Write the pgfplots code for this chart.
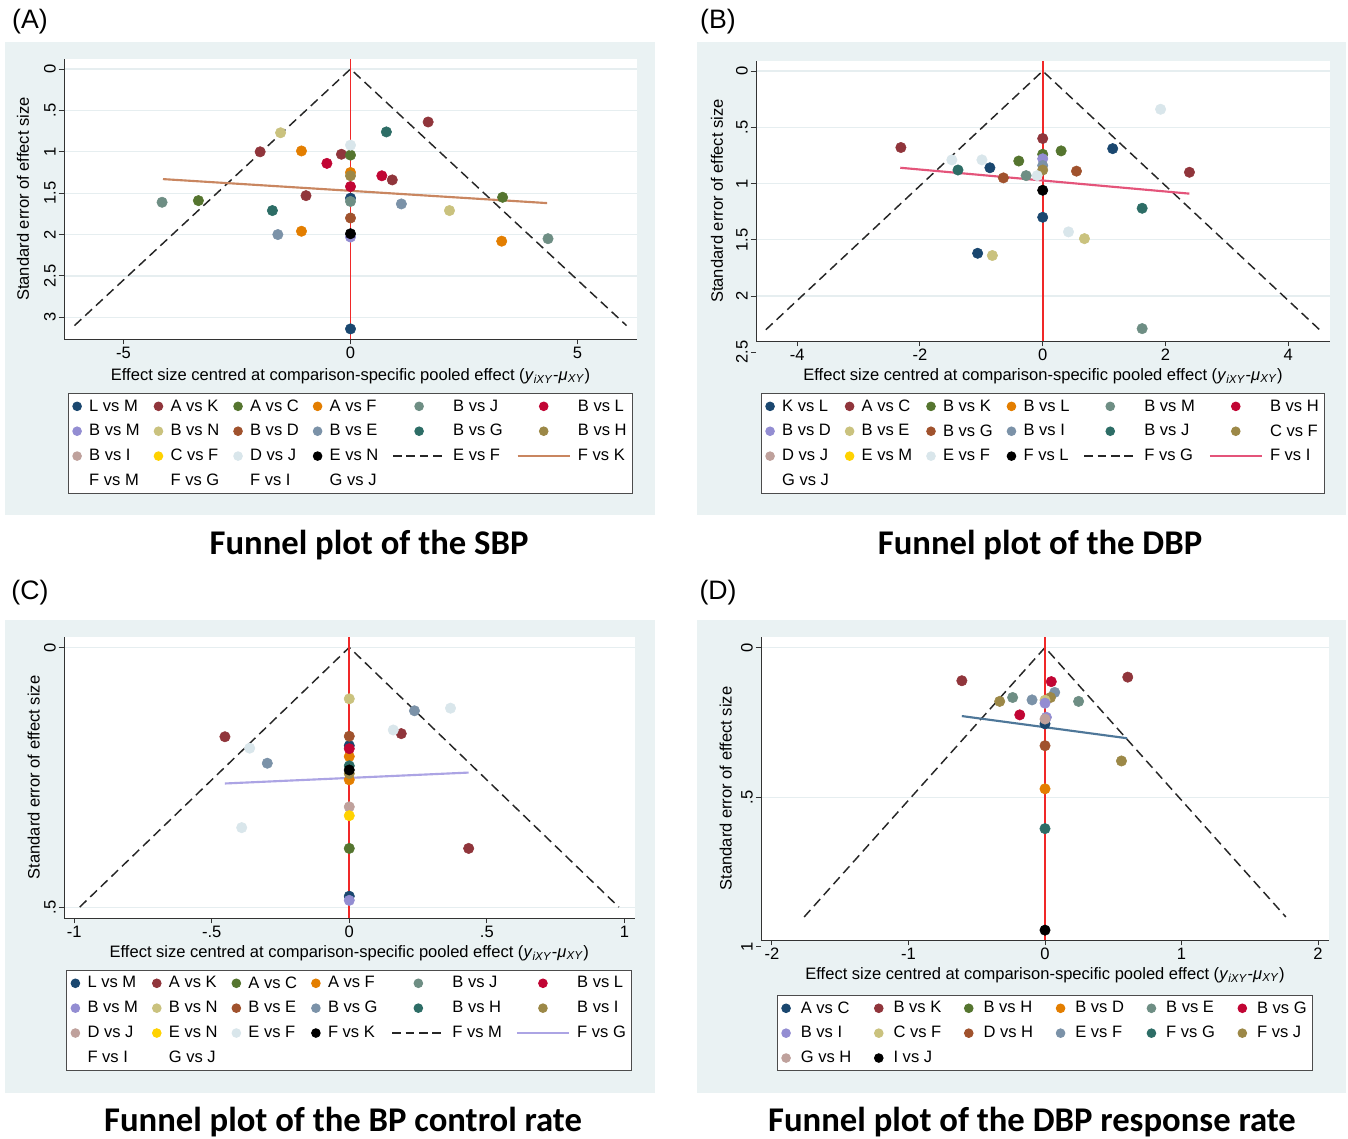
\documentclass[border=0pt]{standalone}
\usepackage{fontspec}
\setmainfont{Liberation Sans}
\newfontfamily\titlefont{Carlito}
\usepackage{pgfplots}
\pgfplotsset{compat=1.18}

\definecolor{bg}{HTML}{EAF2F3}
\definecolor{gridc}{HTML}{E6EEF0}
\definecolor{cNavy}{HTML}{1A476F}
\definecolor{cMaroon}{HTML}{90353B}
\definecolor{cGreen}{HTML}{55752F}
\definecolor{cOrange}{HTML}{E37E00}
\definecolor{cTeal}{HTML}{6E8E84}
\definecolor{cCran}{HTML}{C10534}
\definecolor{cLav}{HTML}{938DD2}
\definecolor{cKhaki}{HTML}{CAC27E}
\definecolor{cSienna}{HTML}{A0522D}
\definecolor{cEmid}{HTML}{7B92A8}
\definecolor{cEmer}{HTML}{2D6D66}
\definecolor{cBrown}{HTML}{9C8847}
\definecolor{cErose}{HTML}{BFA19C}
\definecolor{cGold}{HTML}{FFD200}
\definecolor{cBgray}{HTML}{D9E6EB}
\definecolor{fitA}{HTML}{C98660}
\definecolor{fitB}{HTML}{E4547A}
\definecolor{fitC}{HTML}{ACA4E4}
\definecolor{fitD}{HTML}{4E7799}
\definecolor{redline}{HTML}{F02828}

\newcommand{\fs}{\fontsize{12.4}{14}\selectfont}
\newcommand{\xl}{Effect size centred at comparison-specific pooled effect (\textit{y}\textsubscript{\textit{iXY}}-\textit{μ}\textsubscript{\textit{XY}})}

\pgfplotsset{
  ld/.style={legend image code/.code={\path (0pt,0pt) (6.4pt,0pt); \fill[#1] (3.2pt,0pt) circle (3.2pt);}},
  lw/.style={legend image code/.code={\path (0pt,0pt) (39pt,0pt); \fill[#1] (19.5pt,0pt) circle (3.2pt);}},
  le/.style={legend image code/.code={\path (0pt,0pt) (6.4pt,0pt);}},
  ll/.style={legend image code/.code={\draw[#1] (0pt,0pt) -- (39pt,0pt);}},
  stata/.style={
    scale only axis,
    y dir=reverse,
    axis x line*=bottom, axis y line*=left,
    axis line style={black!80, line width=0.75pt},
    every tick/.style={black!80, line width=0.75pt},
    major tick length=4pt,
    tick align=outside,
    ymajorgrids,
    major grid style={color=gridc, line width=0.9pt},
    tick label style={font=\fs},
    yticklabel style={rotate=90, anchor=south, inner sep=2pt},
    xticklabel style={anchor=north, inner sep=2pt},
    label style={font=\fs},
    clip mode=individual,
    axis background/.style={fill=white},
    legend columns=6,
    legend cell align=left,
    legend style={draw=black!70, line width=0.75pt, fill=white, font=\fs,
      inner xsep=3pt, inner ysep=3pt, row sep=5.5pt, nodes={inner sep=1.5pt},
      /tikz/every odd column/.append style={column sep=4pt},
      /tikz/every even column/.append style={column sep=9pt}},
  },
}
\newcommand{\pts}[2]{\addplot[only marks, mark=*, mark size=3.9pt, color=#1, forget plot] coordinates {#2};}
\newcommand{\LD}[2]{\addlegendimage{ld=#1}\addlegendentry{#2}}
\newcommand{\LW}[2]{\addlegendimage{lw=#1}\addlegendentry{#2}}
\newcommand{\LE}[1]{\addlegendimage{le}\addlegendentry{#1}}
\newcommand{\LL}[2]{\addlegendimage{ll={#1}}\addlegendentry{#2}}

\begin{document}
\begin{tikzpicture}
\useasboundingbox (0pt,0pt) rectangle (1011pt,-853.5pt);
\fill[bg] (3.75pt,-31.5pt) rectangle (491.25pt,-386.25pt);
\fill[bg] (522.75pt,-31.5pt) rectangle (1009.5pt,-386.25pt);
\fill[bg] (3.75pt,-465pt) rectangle (491.25pt,-819.75pt);
\fill[bg] (522.75pt,-465pt) rectangle (1009.5pt,-819.75pt);
\node[font=\fontsize{20}{24}\selectfont] at (22.5pt,-16.5pt) {(A)};
\node[font=\fontsize{20}{24}\selectfont] at (538.5pt,-16.5pt) {(B)};
\node[font=\fontsize{20}{24}\selectfont] at (22.5pt,-444.75pt) {(C)};
\node[font=\fontsize{20}{24}\selectfont] at (538.5pt,-444.75pt) {(D)};
\node[font=\titlefont\bfseries\fontsize{26}{30}\selectfont, anchor=base] at (276.75pt,-415.5pt) {Funnel plot of the SBP};
\node[font=\titlefont\bfseries\fontsize{26}{30}\selectfont, anchor=base] at (780pt,-415.5pt) {Funnel plot of the DBP};
\node[font=\titlefont\bfseries\fontsize{26}{30}\selectfont, anchor=base] at (257.25pt,-848.25pt) {Funnel plot of the BP control rate};
\node[font=\titlefont\bfseries\fontsize{26}{30}\selectfont, anchor=base] at (774pt,-848.25pt) {Funnel plot of the DBP response rate};

% ---------------- (A) ----------------
\begin{axis}[stata, at={(48pt,-254.25pt)}, anchor=south west, width=429.75pt, height=210pt,
  xmin=-6.31, xmax=6.31, ymin=-0.121, ymax=3.262,
  xtick={-5,0,5}, xticklabels={-5,0,5},
  ytick={0,0.5,1,1.5,2,2.5,3}, yticklabels={0,.5,1,1.5,2,2.5,3},
  xlabel={\xl}, ylabel={Standard error of effect size},
  xlabel style={at={(axis description cs:0.5,-0.132)}, anchor=center},
  ylabel style={at={(axis description cs:-0.0716,0.5)}, anchor=center},
  legend style={at={(0.5,-0.193)}, anchor=north}]
\LD{cNavy}{L vs M}\LD{cMaroon}{A vs K}\LD{cGreen}{A vs C}\LD{cOrange}{A vs F}\LW{cTeal}{B vs J}\LW{cCran}{B vs L}
\LD{cLav}{B vs M}\LD{cKhaki}{B vs N}\LD{cSienna}{B vs D}\LD{cEmid}{B vs E}\LW{cEmer}{B vs G}\LW{cBrown}{B vs H}
\LD{cErose}{B vs I}\LD{cGold}{C vs F}\LD{cBgray}{D vs J}\LD{black}{E vs N}\LL{black!85,dash pattern=on 6.5pt off 3.5pt,line width=1.1pt}{E vs F}\LL{fitA,line width=1.4pt}{F vs K}
\LE{F vs M}\LE{F vs G}\LE{F vs I}\LE{G vs J}
\addplot[black!85, dash pattern=on 7pt off 4pt, line width=1.1pt, forget plot] coordinates {(-6.08,3.1) (0,0) (6.08,3.1)};
\addplot[redline, line width=1.4pt, forget plot] coordinates {(0,-0.121) (0,3.262)};
\addplot[fitA, line width=1.6pt, forget plot] coordinates {(-4.13,1.33) (4.33,1.62)};
\pts{cNavy}{(0,1.56) (0,3.14)}
\pts{cMaroon}{(1.71,0.64) (-1.99,1.0) (-0.20,1.03) (0.92,1.34) (-0.98,1.53)}
\pts{cGreen}{(0,1.04) (3.35,1.55) (-3.35,1.59)}
\pts{cOrange}{(-1.08,0.99) (0,1.25) (-1.08,1.96) (3.33,2.08)}
\pts{cTeal}{(0,1.60) (-4.15,1.61) (4.35,2.05)}
\pts{cCran}{(-0.52,1.14) (0.69,1.29) (0,1.42)}
\pts{cLav}{(0,2.03)}
\pts{cKhaki}{(-1.54,0.77) (2.18,1.71)}
\pts{cSienna}{(0,1.80)}
\pts{cEmid}{(1.12,1.63) (-1.60,2.0)}
\pts{cEmer}{(0.79,0.76) (-1.72,1.71)}
\pts{cBrown}{(0,1.29)}
\pts{cBgray}{(0,0.92)}
\pts{black}{(0,1.99)}
\end{axis}

% ---------------- (B) ----------------
\begin{axis}[stata, at={(567pt,-255.75pt)}, anchor=south west, width=430.5pt, height=210pt,
  xmin=-4.67, xmax=4.68, ymin=-0.089, ymax=2.40,
  xtick={-4,-2,0,2,4}, xticklabels={-4,-2,0,2,4},
  ytick={0,0.5,1,1.5,2}, yticklabels={0,.5,1,1.5,2},
  xlabel={\xl}, ylabel={Standard error of effect size},
  xlabel style={at={(axis description cs:0.5,-0.125)}, anchor=center},
  ylabel style={at={(axis description cs:-0.068,0.5)}, anchor=center},
  legend style={at={(0.5,-0.186)}, anchor=north}]
\LD{cNavy}{K vs L}\LD{cMaroon}{A vs C}\LD{cGreen}{B vs K}\LD{cOrange}{B vs L}\LW{cTeal}{B vs M}\LW{cCran}{B vs H}
\LD{cLav}{B vs D}\LD{cKhaki}{B vs E}\LD{cSienna}{B vs G}\LD{cEmid}{B vs I}\LW{cEmer}{B vs J}\LW{cBrown}{C vs F}
\LD{cErose}{D vs J}\LD{cGold}{E vs M}\LD{cBgray}{E vs F}\LD{black}{F vs L}\LL{black!85,dash pattern=on 6.5pt off 3.5pt,line width=1.1pt}{F vs G}\LL{fitB,line width=1.4pt}{F vs I}
\LE{G vs J}
\addplot[black!85, dash pattern=on 7pt off 4pt, line width=1.1pt, forget plot] coordinates {(-4.51,2.3) (0,0) (4.51,2.3)};
\addplot[redline, line width=1.4pt, forget plot] coordinates {(0,-0.089) (0,2.40)};
\addplot[fitB, line width=1.6pt, forget plot] coordinates {(-2.32,0.86) (2.39,1.09)};
\pts{cNavy}{(1.14,0.69) (-0.86,0.86) (0,1.30) (-1.06,1.62)}
\pts{cMaroon}{(-2.31,0.68) (0,0.60) (2.39,0.90)}
\pts{cGreen}{(0.30,0.71) (0,0.74) (-0.39,0.80)}
\pts{cLav}{(0,0.78)}
\pts{cKhaki}{(0.68,1.49) (-0.82,1.64)}
\pts{cSienna}{(-0.64,0.95) (0.55,0.89)}
\pts{cEmid}{(0,0.84)}
\pts{cEmer}{(-1.38,0.88) (1.62,1.22)}
\pts{cBrown}{(0,0.88)}
\pts{cTeal}{(-0.27,0.93) (1.62,2.29)}
\pts{cBgray}{(1.92,0.34) (-1.48,0.79) (-0.99,0.79) (-0.09,0.93) (0.42,1.43)}
\pts{black}{(0,1.06)}
\draw[black!80, line width=0.75pt] (axis cs:-4.67,2.5) -- ++(-4pt,0pt);
\node[rotate=90, anchor=south, font=\fs, inner sep=2pt] at ([xshift=-4pt]axis cs:-4.67,2.5) {2.5};
\end{axis}

% ---------------- (C) ----------------
\begin{axis}[stata, at={(48pt,-688.5pt)}, anchor=south west, width=427.9pt, height=210.75pt,
  xmin=-1.037, xmax=1.037, ymin=-0.02, ymax=0.521,
  xtick={-1,-0.5,0,0.5,1}, xticklabels={-1,-.5,0,.5,1},
  ytick={0,0.5}, yticklabels={0,.5},
  xlabel={\xl}, ylabel={Standard error of effect size},
  xlabel style={at={(axis description cs:0.5,-0.1246)}, anchor=center},
  ylabel style={at={(axis description cs:-0.053,0.5)}, anchor=center},
  legend style={at={(0.5,-0.185)}, anchor=north}]
\LD{cNavy}{L vs M}\LD{cMaroon}{A vs K}\LD{cGreen}{A vs C}\LD{cOrange}{A vs F}\LW{cTeal}{B vs J}\LW{cCran}{B vs L}
\LD{cLav}{B vs M}\LD{cKhaki}{B vs N}\LD{cSienna}{B vs E}\LD{cEmid}{B vs G}\LW{cEmer}{B vs H}\LW{cBrown}{B vs I}
\LD{cErose}{D vs J}\LD{cGold}{E vs N}\LD{cBgray}{E vs F}\LD{black}{F vs K}\LL{black!85,dash pattern=on 6.5pt off 3.5pt,line width=1.1pt}{F vs M}\LL{fitC,line width=1.4pt}{F vs G}
\LE{F vs I}\LE{G vs J}
\addplot[black!85, dash pattern=on 7pt off 4pt, line width=1.1pt, forget plot] coordinates {(-0.98,0.5) (0,0) (0.98,0.5)};
\addplot[redline, line width=1.4pt, forget plot] coordinates {(0,-0.02) (0,0.521)};
\addplot[fitC, line width=1.6pt, forget plot] coordinates {(-0.452,0.262) (0.434,0.241)};
\pts{cNavy}{(0,0.189) (0,0.479)}
\pts{cMaroon}{(0.189,0.166) (-0.452,0.172) (0.434,0.387)}
\pts{cGreen}{(0,0.387)}
\pts{cOrange}{(0,0.210) (0,0.255)}
\pts{cCran}{(0,0.195)}
\pts{cLav}{(0,0.487)}
\pts{cKhaki}{(0,0.099)}
\pts{cSienna}{(0,0.171)}
\pts{cEmid}{(0.237,0.122) (-0.298,0.223)}
\pts{cEmer}{(0,0.228)}
\pts{cBrown}{(0,0.243)}
\pts{cErose}{(0,0.307)}
\pts{cGold}{(0,0.324)}
\pts{cBgray}{(0.368,0.117) (0.160,0.159) (-0.362,0.194) (-0.391,0.347)}
\pts{black}{(0,0.236)}
\end{axis}

% ---------------- (D) ----------------
\begin{axis}[stata, at={(570.75pt,-705pt)}, anchor=south west, width=426pt, height=227.25pt,
  xmin=-2.08, xmax=2.08, ymin=-0.035, ymax=0.977,
  xtick={-2,-1,0,1,2}, xticklabels={-2,-1,0,1,2},
  ytick={0,0.5}, yticklabels={0,.5},
  xlabel={\xl}, ylabel={Standard error of effect size},
  xlabel style={at={(axis description cs:0.5,-0.1155)}, anchor=center},
  ylabel style={at={(axis description cs:-0.062,0.5)}, anchor=center},
  legend style={at={(0.5,-0.1815)}, anchor=north,
    /tikz/every odd column/.append style={column sep=6pt},
    /tikz/every even column/.append style={column sep=15.5pt}}]
\LD{cNavy}{A vs C}\LD{cMaroon}{B vs K}\LD{cGreen}{B vs H}\LD{cOrange}{B vs D}\LD{cTeal}{B vs E}\LD{cCran}{B vs G}
\LD{cLav}{B vs I}\LD{cKhaki}{C vs F}\LD{cSienna}{D vs H}\LD{cEmid}{E vs F}\LD{cEmer}{F vs G}\LD{cBrown}{F vs J}
\LD{cErose}{G vs H}\LD{black}{I vs J}
\addplot[black!85, dash pattern=on 7pt off 4pt, line width=1.1pt, forget plot] coordinates {(-1.764,0.9) (0,0) (1.764,0.9)};
\addplot[redline, line width=1.4pt, forget plot] coordinates {(0,-0.035) (0,0.977)};
\addplot[fitD, line width=1.6pt, forget plot] coordinates {(-0.609,0.229) (0.60,0.303)};
\pts{cNavy}{(0,0.255)}
\pts{cMaroon}{(-0.609,0.111) (0.606,0.099)}
\pts{cCran}{(0.046,0.114) (-0.185,0.225)}
\pts{cEmid}{(0.071,0.150) (-0.095,0.175)}
\pts{cTeal}{(-0.237,0.167) (0.246,0.180)}
\pts{cBrown}{(-0.332,0.180) (0.04,0.167) (0.56,0.379)}
\pts{cKhaki}{(0,0.176)}
\pts{cLav}{(0,0.186) (0.01,0.233)}
\pts{cErose}{(0,0.239)}
\pts{cSienna}{(0,0.328)}
\pts{cOrange}{(0,0.472)}
\pts{cEmer}{(0,0.605)}
\pts{black}{(0,0.944)}
\draw[black!80, line width=0.75pt] (axis cs:-2.08,1) -- ++(-4pt,0pt);
\node[rotate=90, anchor=south, font=\fs, inner sep=2pt] at ([xshift=-4pt]axis cs:-2.08,1) {1};
\end{axis}
\end{tikzpicture}
\end{document}
